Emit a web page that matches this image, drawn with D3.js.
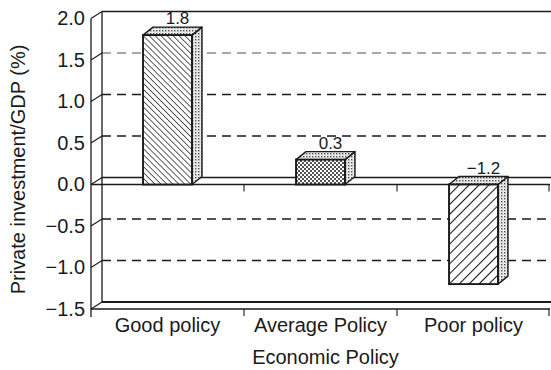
<!DOCTYPE html>
<html>
<head>
<meta charset="utf-8">
<script src="https://cdn.jsdelivr.net/npm/d3@7"></script>
<style>
  html, body { margin: 0; padding: 0; background: #fff; }
  svg { display: block; font-family: "Liberation Sans", Arial, Helvetica, sans-serif; }
</style>
</head>
<body>
<svg id="chart" width="551" height="370"></svg>
<script>
// Private investment as a share of GDP by quality of economic policy
const categories = ["Good policy", "Average Policy", "Poor policy"];
const values = [1.8, 0.3, -1.2];
const yTicks = [2.0, 1.5, 1.0, 0.5, 0.0, -0.5, -1.0, -1.5];
const gridTicks = [1.5, 1.0, 0.5, -0.5, -1.0];
const frontFills = ["hatchBack", "checkDots", "hatchFwd"];
const yTitle = "Private investment/GDP (%)";
const xTitle = "Economic Policy";

const svg = d3.select("#chart");
const W = 551, H = 370;
const left = 91, right = 550;
// depth offsets of the pseudo-3D box (back wall vs. front plane)
const wallDX = 11, wallDY = -7;
const barDX = 10, barDY = -8;
const ink = "#1a1a1a";

const y = d3.scaleLinear().domain([-1.5, 2.0]).range([309, 18.5]);
const xCat = d3.scaleBand().domain(categories).range([left, right]);
const xBar = d3.scaleBand().domain(categories).range([left, right])
  .paddingInner(0.68).paddingOuter(0.34);
const fmt = d3.format(".1f");

// ---- fill patterns
const defs = svg.append("defs");
function hatch(id, spacing, angle, width) {
  const p = defs.append("pattern").attr("id", id)
    .attr("patternUnits", "userSpaceOnUse")
    .attr("width", spacing).attr("height", spacing)
    .attr("patternTransform", `rotate(${angle})`);
  p.append("rect").attr("width", spacing).attr("height", spacing).attr("fill", "#fff");
  p.append("line").attr("x1", 0).attr("y1", 0).attr("x2", 0).attr("y2", spacing)
    .attr("stroke", ink).attr("stroke-width", width);
}
hatch("hatchBack", 4.2, -45, 1.4);
hatch("hatchFwd", 7, 45, 2.1);

const dots = defs.append("pattern").attr("id", "checkDots")
  .attr("patternUnits", "userSpaceOnUse").attr("width", 4).attr("height", 4);
dots.append("rect").attr("width", 4).attr("height", 4).attr("fill", "#fff");
dots.append("circle").attr("cx", 1).attr("cy", 1).attr("r", 1.0).attr("fill", ink);
dots.append("circle").attr("cx", 3).attr("cy", 3).attr("r", 1.0).attr("fill", ink);

const stip = defs.append("pattern").attr("id", "stipple")
  .attr("patternUnits", "userSpaceOnUse").attr("width", 3).attr("height", 3);
stip.append("rect").attr("width", 3).attr("height", 3).attr("fill", "#fff");
stip.append("rect").attr("x", 0).attr("y", 0).attr("width", 1.4).attr("height", 1.4).attr("fill", "#444");
stip.append("rect").attr("x", 1.5).attr("y", 1.5).attr("width", 1).attr("height", 1).attr("fill", "#888");

svg.append("rect").attr("width", W).attr("height", H).attr("fill", "#fff");

// ---- back wall: dashed gridlines
svg.append("g").selectAll("line").data(gridTicks).join("line")
  .attr("x1", left + wallDX).attr("x2", W)
  .attr("y1", d => y(d) + wallDY).attr("y2", d => y(d) + wallDY)
  .attr("stroke", d => d === 1.5 ? "#8a8a8a" : ink)
  .attr("stroke-width", 1.3)
  .attr("stroke-dasharray", "9,6");

// back wall edges
const frame = svg.append("g").attr("stroke", ink).attr("fill", "none");
frame.append("line").attr("x1", left + wallDX).attr("x2", left + wallDX)
  .attr("y1", y(2) + wallDY).attr("y2", y(-1.5) + wallDY).attr("stroke-width", 1.3);
frame.append("line").attr("x1", left + wallDX).attr("x2", W)
  .attr("y1", y(2) + wallDY).attr("y2", y(2) + wallDY).attr("stroke-width", 1.4);
frame.append("line").attr("x1", left + wallDX).attr("x2", W)
  .attr("y1", y(-1.5) + wallDY).attr("y2", y(-1.5) + wallDY).attr("stroke-width", 2.2);

// floor at zero: back and front edges
frame.append("line").attr("x1", left + wallDX).attr("x2", W)
  .attr("y1", y(0) + wallDY).attr("y2", y(0) + wallDY).attr("stroke-width", 1.3);
frame.append("line").attr("x1", left).attr("x2", right)
  .attr("y1", y(0)).attr("y2", y(0)).attr("stroke-width", 1.3);
// bottom front edge
frame.append("line").attr("x1", left).attr("x2", right)
  .attr("y1", y(-1.5)).attr("y2", y(-1.5)).attr("stroke-width", 1.3);

// front axis line
frame.append("line").attr("x1", left).attr("x2", left)
  .attr("y1", y(2)).attr("y2", y(-1.5) + 8).attr("stroke-width", 1.3);

// diagonal ticks on the side wall
frame.append("g").selectAll("line").data(yTicks).join("line")
  .attr("x1", left).attr("y1", d => y(d))
  .attr("x2", left + wallDX).attr("y2", d => y(d) + wallDY)
  .attr("stroke-width", 1.1);

// category boundary ticks under the zero floor and the bottom edge
const bounds = categories.map(c => xCat(c) + xCat.bandwidth()).map(v => Math.min(v, right - 1));
[y(0), y(-1.5)].forEach(base => {
  frame.append("g").selectAll("line").data(bounds).join("line")
    .attr("x1", d => d).attr("x2", d => d)
    .attr("y1", base).attr("y2", base + 7)
    .attr("stroke-width", 1.1);
});

// ---- bars
const bars = svg.append("g").selectAll("g").data(categories).join("g");
bars.each(function (c, i) {
  const g = d3.select(this);
  const v = values[i];
  const x0 = xBar(c), bw = xBar.bandwidth();
  const yTop = y(Math.max(0, v)), yBot = y(Math.min(0, v));
  // side face
  g.append("polygon")
    .attr("points", [[x0 + bw, yTop], [x0 + bw + barDX, yTop + barDY],
      [x0 + bw + barDX, yBot + barDY], [x0 + bw, yBot]].join(" "))
    .attr("fill", "url(#stipple)").attr("stroke", ink).attr("stroke-width", 1.4)
    .attr("stroke-linejoin", "round");
  // top face
  g.append("polygon")
    .attr("points", [[x0, yTop], [x0 + barDX, yTop + barDY],
      [x0 + bw + barDX, yTop + barDY], [x0 + bw, yTop]].join(" "))
    .attr("fill", "url(#stipple)").attr("stroke", ink).attr("stroke-width", 1.4)
    .attr("stroke-linejoin", "round");
  // front face
  g.append("rect").attr("x", x0).attr("y", yTop)
    .attr("width", bw).attr("height", yBot - yTop)
    .attr("fill", `url(#${frontFills[i]})`)
    .attr("stroke", ink).attr("stroke-width", 1.9);
  // value label
  g.append("text")
    .attr("x", x0 + bw / 2 + barDX)
    .attr("y", yTop + barDY - 3)
    .attr("text-anchor", "middle")
    .attr("font-size", 17).attr("fill", ink)
    .text(fmt(v));
});

// ---- y axis labels
const yAxis = svg.append("g").attr("transform", `translate(${left},0)`)
  .call(d3.axisLeft(y).tickValues(yTicks).tickSize(0).tickPadding(6).tickFormat(fmt));
yAxis.select(".domain").remove();
yAxis.selectAll("text").attr("font-size", 20).attr("fill", ink)
  .attr("font-family", "Liberation Sans, Arial, sans-serif");

// ---- category labels
const xAxis = svg.append("g").attr("transform", `translate(0,${y(-1.5)})`)
  .call(d3.axisBottom(xCat).tickSize(0).tickPadding(9));
xAxis.select(".domain").remove();
xAxis.selectAll("text").attr("font-size", 20).attr("fill", ink)
  .attr("font-family", "Liberation Sans, Arial, sans-serif");

// ---- axis titles
svg.append("text")
  .attr("transform", `translate(25,${(38 + 297) / 2 + 2}) rotate(-90)`)
  .attr("text-anchor", "middle").attr("font-size", 20).attr("fill", ink)
  .text(yTitle);
svg.append("text")
  .attr("x", xCat(categories[1]) + xCat.bandwidth() / 2 + 5).attr("y", 364)
  .attr("text-anchor", "middle").attr("font-size", 20).attr("fill", ink)
  .text(xTitle);
</script>
</body>
</html>
